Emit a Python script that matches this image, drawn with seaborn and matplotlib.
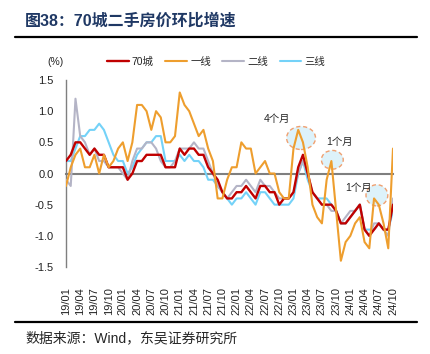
import pandas as pd
import matplotlib
matplotlib.use("Agg")
import matplotlib.pyplot as plt
from matplotlib.patches import Ellipse
from matplotlib.lines import Line2D
import seaborn as sns

# monthly MoM change (%), 2019/01 - 2024/10
city70 = [0.2, 0.3, 0.5, 0.5, 0.4, 0.3, 0.4, 0.3, 0.3, 0.1, 0.1, 0.1,
          0.1, -0.1, 0.0, 0.2, 0.2, 0.3, 0.3, 0.3, 0.3, 0.1, 0.1, 0.1,
          0.4, 0.3, 0.4, 0.4, 0.3, 0.3, 0.1, 0.0, -0.1, -0.3, -0.4, -0.4,
          -0.3, -0.3, -0.2, -0.3, -0.4, -0.2, -0.2, -0.3, -0.3, -0.5, -0.4, -0.4,
          -0.3, 0.1, 0.3, 0.0, -0.3, -0.4, -0.5, -0.5, -0.5, -0.6, -0.8, -0.8,
          -0.7, -0.6, -0.5, -0.9, -1.0, -0.9, -0.8, -0.9, -0.9, -0.5]
tier1 = [-0.2, 0.1, 0.3, 0.4, 0.1, 0.1, 0.3, 0.0, 0.3, 0.1, 0.2, 0.4,
         0.5, 0.2, 0.5, 1.1, 1.1, 1.0, 0.7, 1.0, 0.9, 0.5, 0.5, 0.6,
         1.3, 1.1, 1.0, 0.8, 0.6, 0.7, 0.4, 0.2, -0.4, -0.4, -0.1, 0.1,
         0.1, 0.5, 0.4, 0.4, 0.0, 0.1, 0.2, 0.0, 0.0, -0.3, -0.4, -0.4,
         0.4, 0.7, 0.5, 0.1, -0.5, -0.7, -0.8, -0.1, 0.2, -0.6, -1.4, -1.1,
         -1.0, -0.8, -0.7, -1.1, -1.2, -0.4, -0.5, -0.8, -1.2, 0.4]
tier2 = [-0.1, -0.2, 1.2, 0.6, 0.5, 0.3, 0.4, 0.2, 0.2, 0.1, 0.1, 0.1,
         0.0, -0.1, 0.2, 0.4, 0.4, 0.5, 0.5, 0.4, 0.2, 0.1, 0.1, 0.2,
         0.4, 0.4, 0.4, 0.5, 0.4, 0.4, 0.2, 0.0, -0.2, -0.3, -0.4, -0.3,
         -0.2, -0.2, -0.1, -0.2, -0.3, -0.1, -0.2, -0.2, -0.3, -0.4, -0.4, -0.4,
         -0.3, 0.0, 0.2, 0.0, -0.3, -0.4, -0.5, -0.5, -0.6, -0.6, -0.8, -0.7,
         -0.6, -0.6, -0.5, -0.9, -1.0, -0.8, -0.8, -0.9, -1.0, -0.4]
tier3 = [0.2, 0.2, 0.4, 0.6, 0.6, 0.7, 0.7, 0.8, 0.7, 0.5, 0.3, 0.2,
         0.2, 0.0, 0.1, 0.3, 0.4, 0.5, 0.5, 0.6, 0.6, 0.2, 0.2, 0.2,
         0.3, 0.2, 0.3, 0.2, 0.2, 0.1, -0.1, -0.1, -0.2, -0.3, -0.4, -0.5,
         -0.4, -0.4, -0.3, -0.4, -0.5, -0.3, -0.3, -0.4, -0.5, -0.5, -0.5, -0.5,
         -0.4, 0.0, 0.2, -0.1, -0.3, -0.4, -0.4, -0.4, -0.5, -0.6, -0.8, -0.8,
         -0.7, -0.6, -0.5, -0.9, -0.9, -0.9, -0.8, -0.9, -0.9, -0.6]

tick_labels = ["19/01", "19/04", "19/07", "19/10", "20/01", "20/04", "20/07", "20/10",
               "21/01", "21/04", "21/07", "21/10", "22/01", "22/04", "22/07", "22/10",
               "23/01", "23/04", "23/07", "23/10", "24/01", "24/04", "24/07", "24/10"]

names = ["70城", "一线", "二线", "三线"]
colors = {"70城": "#C00000", "一线": "#EE9E2E", "二线": "#B4B4C6", "三线": "#74D2F8"}

rows = []
for name, vals in zip(names, [city70, tier1, tier2, tier3]):
    for i, v in enumerate(vals):
        rows.append({"month": i, "value": v, "series": name})
df = pd.DataFrame(rows)

sns.set_style("white")
plt.rcParams['font.family'] = ['Liberation Sans', 'Noto Sans CJK SC']

W, H = 430, 354
fig = plt.figure(figsize=(W / 100, H / 100), dpi=100)
ax = fig.add_axes([66 / W, 1 - 267 / H, (393 - 66) / W, (267 - 80) / H])

# draw order: blue, grey, red, orange on top
for name, lw in [("三线", 1.5), ("二线", 1.5), ("70城", 1.7), ("一线", 1.5)]:
    sns.lineplot(data=df[df.series == name], x="month", y="value", color=colors[name],
                 linewidth=lw, ax=ax, label=name, zorder=3)

ax.set_xlim(0, 69)
ax.set_ylim(-1.5, 1.5)
ax.set_yticks([-1.5, -1.0, -0.5, 0.0, 0.5, 1.0, 1.5])
ax.set_yticklabels([f"{t:.1f}" for t in [-1.5, -1.0, -0.5, 0.0, 0.5, 1.0, 1.5]])
ax.set_xticks(range(0, 70, 3))
ax.set_xticklabels(tick_labels)
ax.set_xlabel("")
ax.set_ylabel("")

for s in ["top", "right"]:
    ax.spines[s].set_visible(False)
ax.spines["left"].set_color("#7F7F7F")
ax.spines["left"].set_linewidth(1.0)
ax.spines["bottom"].set_position(("data", 0))
ax.spines["bottom"].set_color("#7F7F7F")
ax.spines["bottom"].set_linewidth(1.5)
ax.spines["bottom"].set_zorder(2)
ax.tick_params(axis="y", direction="out", length=3, width=1, color="#7F7F7F",
               labelsize=8, pad=6, labelcolor="#222222")
ax.tick_params(axis="x", direction="out", length=3, width=1, color="#7F7F7F",
               labelsize=8, pad=79, labelcolor="#222222", labelrotation=90)

# callout ellipses
for cx, cy, w, h in [(49.6, 0.57, 6.1, 0.37), (56.2, 0.22, 4.6, 0.30), (65.6, -0.35, 4.6, 0.34)]:
    ax.add_patch(Ellipse((cx, cy), w, h, facecolor="#DDF2FA", edgecolor="#F0A070",
                         linestyle=(0, (3, 2)), linewidth=1, zorder=1))
ax.text(44.5, 0.87, "4个月", fontsize=7.5, ha="center", va="center")
ax.text(57.8, 0.50, "1个月", fontsize=7.5, ha="center", va="center")
ax.text(61.8, -0.23, "1个月", fontsize=7.5, ha="center", va="center")

handles, labels = ax.get_legend_handles_labels()
order = [labels.index(n) for n in names]
ax.legend([handles[k] for k in order], names, loc="center", bbox_to_anchor=(216 / W, 1 - 62 / H),
          bbox_transform=fig.transFigure, ncol=4, frameon=False, fontsize=7.5,
          handlelength=2.1, handletextpad=0.3, columnspacing=1.1)

fig.text(55 / W, 1 - 62 / H, "(%)", fontsize=7.5, ha="center", va="center")
fig.text(25 / W, 1 - 21 / H, "图38：70城二手房价环比增速", fontsize=11.5, fontweight="bold",
         color="#1F3864", ha="left", va="center")
fig.add_artist(Line2D([15 / W, 417 / W], [1 - 37 / H] * 2, color="black", linewidth=1.6))
fig.add_artist(Line2D([15 / W, 417 / W], [1 - 322 / H] * 2, color="black", linewidth=1.6))
fig.text(25 / W, 1 - 338 / H, "数据来源：Wind，东吴证券研究所", fontsize=10, ha="left", va="center")

fig.savefig("out.png", dpi=100)
